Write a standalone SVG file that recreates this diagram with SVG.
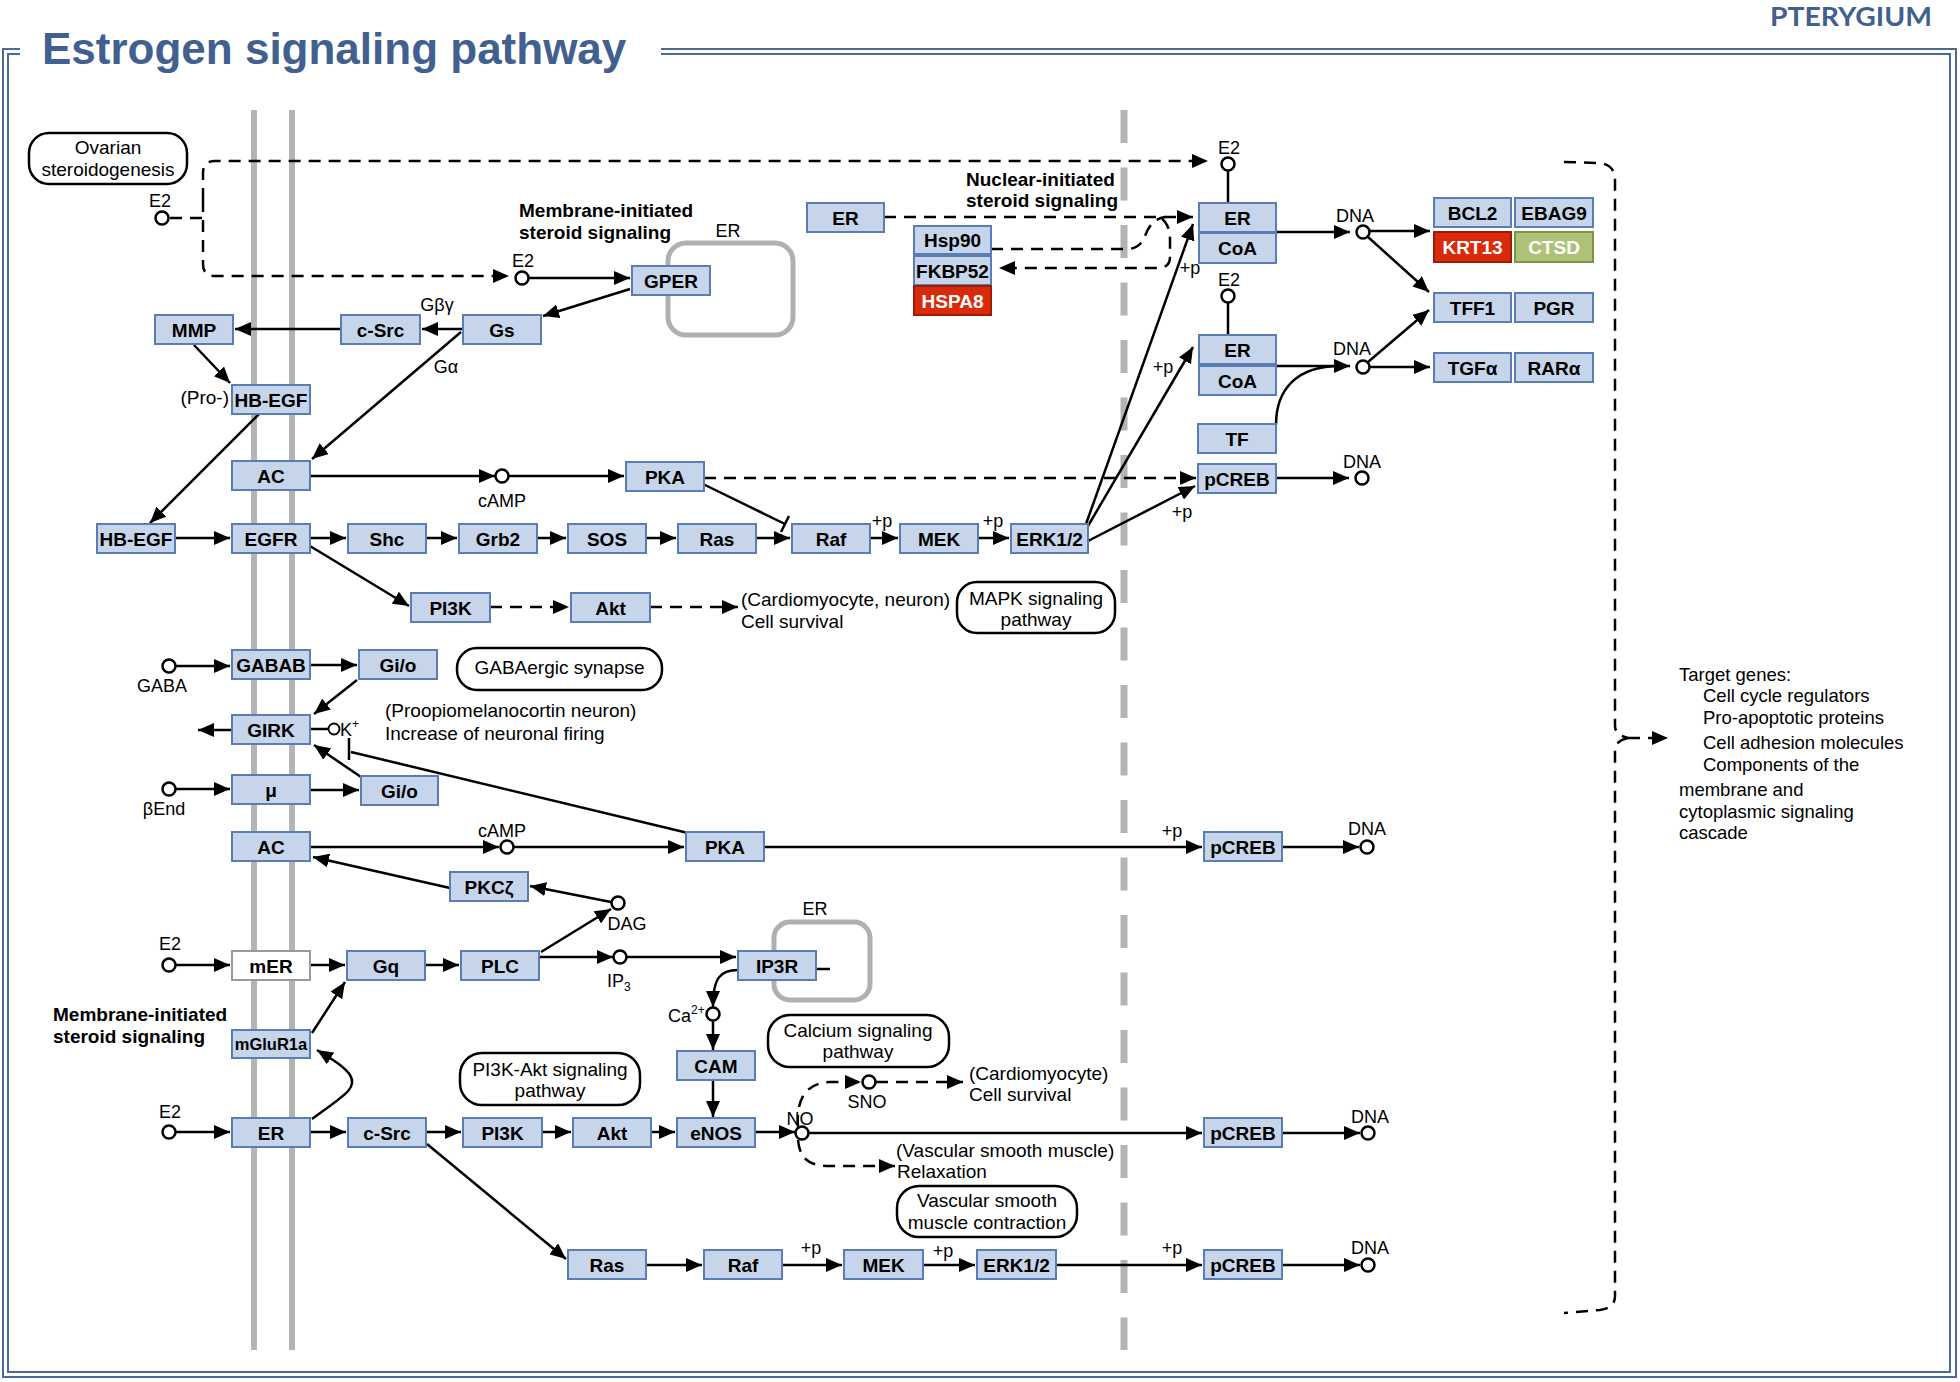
<svg xmlns="http://www.w3.org/2000/svg" width="1960" height="1382" viewBox="0 0 1960 1382">
<style>
.nb rect{fill:#c6d5ea;stroke:#5b7db5;stroke-width:2}
.nb text{font:bold 19px "Liberation Sans",Arial,sans-serif;text-anchor:middle;fill:#000}
.red rect{fill:#d92a0b;stroke:#9c1c05}
.red text{fill:#fff}
.grn rect{fill:#adc276;stroke:#7f9445}
.grn text{fill:#fff}
.mer rect{fill:#fff;stroke:#9a9a9a}
.pw rect{fill:#fff;stroke:#000;stroke-width:2.5}
.pw text{font:19px "Liberation Sans",Arial,sans-serif;text-anchor:middle}
.lbl{font:19px "Liberation Sans",Arial,sans-serif}
.sm{font:18px "Liberation Sans",Arial,sans-serif;text-anchor:middle}
.st{text-anchor:start}
.bold{font:bold 19px "Liberation Sans",Arial,sans-serif}
.cmp circle{fill:#fff;stroke:#000;stroke-width:2.5}
.e{fill:none;stroke:#000;stroke-width:2.5}
.ea{marker-end:url(#a)}
.d{stroke-dasharray:12 8}
.mem{stroke:#b4b4b4;stroke-width:6}
.nuc{stroke:#b4b4b4;stroke-width:7;stroke-dasharray:33 24.5}
.cpt{fill:none;stroke:#b0b0b0;stroke-width:5}
.frm{fill:none;stroke:#4a6a9c;stroke-width:2}
</style>
<defs>
<marker id="a" markerWidth="16" markerHeight="14" refX="16" refY="7" orient="auto" markerUnits="userSpaceOnUse"><path d="M0,0 L16,7 L0,14 z" fill="#000"/></marker>
</defs>
<rect width="1960" height="1382" fill="#fff"/>
<g id="background">
<path class="frm" d="M20,49 H3 V1377 H1956 V49 H661"/>
<path class="frm" d="M20,54 H8 V1372 H1950 V54 H661"/>
<text x="42" y="64" style="font:bold 44px 'Liberation Sans',Arial,sans-serif;fill:#41608f">Estrogen signaling pathway</text>
<text x="1770" y="26" textLength="162" lengthAdjust="spacingAndGlyphs" style="font:bold 27px Lato,'Open Sans',sans-serif;fill:#41608f">PTERYGIUM</text>
<line class="mem" x1="254" y1="110" x2="254" y2="1350"/>
<line class="mem" x1="292" y1="110" x2="292" y2="1350"/>
<line class="nuc" x1="1124" y1="110" x2="1124" y2="1350"/>
<rect class="cpt" x="668" y="243" width="125" height="92" rx="18"/>
<text class="sm" x="728" y="237">ER</text>
<rect class="cpt" x="774" y="922" width="96" height="78" rx="16"/>
<text class="sm" x="815" y="915">ER</text>
<text class="bold" x="519" y="217">Membrane-initiated</text>
<text class="bold" x="519" y="239">steroid signaling</text>
<text class="bold" x="966" y="186">Nuclear-initiated</text>
<text class="bold" x="966" y="207">steroid signaling</text>
<text class="bold" x="53" y="1021">Membrane-initiated</text>
<text class="bold" x="53" y="1043">steroid signaling</text>
<text class="lbl" x="741" y="606">(Cardiomyocyte, neuron)</text>
<text class="lbl" x="741" y="628">Cell survival</text>
<text class="lbl" x="385" y="717">(Proopiomelanocortin neuron)</text>
<text class="lbl" x="385" y="740">Increase of neuronal firing</text>
<text class="lbl" x="969" y="1080">(Cardiomyocyte)</text>
<text class="lbl" x="969" y="1101">Cell survival</text>
<text class="lbl" x="896" y="1157">(Vascular smooth muscle)</text>
<text class="lbl" x="897" y="1178">Relaxation</text>
<g style="font:18.5px 'Liberation Sans',Arial,sans-serif">
<text x="1679" y="681">Target genes:</text>
<text x="1703" y="702">Cell cycle regulators</text>
<text x="1703" y="724">Pro-apoptotic proteins</text>
<text x="1703" y="749">Cell adhesion molecules</text>
<text x="1703" y="771">Components of the</text>
<text x="1679" y="796">membrane and</text>
<text x="1679" y="818">cytoplasmic signaling</text>
<text x="1679" y="839">cascade</text>
</g>
<g class="sm">
<text x="882" y="527">+p</text>
<text x="993" y="527">+p</text>
<text x="1182" y="518">+p</text>
<text x="1190" y="274">+p</text>
<text x="1163" y="373">+p</text>
<text x="1172" y="837">+p</text>
<text x="811" y="1254">+p</text>
<text x="943" y="1257">+p</text>
<text x="1172" y="1254">+p</text>
<text x="437" y="311">Gβγ</text>
<text x="446" y="373">Gα</text>
</g>
<text class="lbl" x="229" y="404" style="text-anchor:end">(Pro-)</text>
</g>
<g id="connectors">
<path class="e d ea" d="M203,200 V173 Q203,161 215,161 H1208"/>
<path class="e d ea" d="M203,200 V264 Q203,276 215,276 H509"/>
<path class="e d" d="M170,218 H203"/>
<path class="e ea" d="M529,278 H630"/>
<path class="e ea" d="M630,289 L543,316"/>
<path class="e ea" d="M463,329 H422"/>
<path class="e ea" d="M341,329 H235"/>
<path class="e ea" d="M194,345 L230,383"/>
<path class="e ea" d="M259,414 L150,523"/>
<path class="e ea" d="M461,332 L312,459"/>
<path class="e ea" d="M310,476 H495"/>
<path class="e ea" d="M509,476 H624"/>
<path class="e" d="M703,484 L785,524 M781,532 L789,516"/>
<path class="e ea" d="M175,538 H230"/>
<path class="e ea" d="M310,538 H346"/>
<path class="e ea" d="M426,538 H457"/>
<path class="e ea" d="M537,538 H566"/>
<path class="e ea" d="M646,538 H676"/>
<path class="e ea" d="M756,538 H790"/>
<path class="e ea" d="M870,538 H898"/>
<path class="e ea" d="M978,538 H1009"/>
<path class="e ea" d="M310,546 L409,606"/>
<path class="e d ea" d="M490,607 H569"/>
<path class="e d ea" d="M650,607 H738"/>
<path class="e d ea" d="M704,478 H1196"/>
<path class="e ea" d="M1088,541 L1195,486"/>
<path class="e ea" d="M1086,524 L1193,224"/>
<path class="e ea" d="M1088,526 L1193,347"/>
<path class="e ea" d="M1276,478 H1349"/>
<path class="e" d="M1228,171 V203 M1228,303 V335"/>
<path class="e ea" d="M1276,232 H1350"/>
<path class="e ea" d="M1276,366 H1350"/>
<path class="e" d="M1276,425 C1276,388 1298,366 1340,366"/>
<path class="e ea" d="M1370,231 H1430"/>
<path class="e ea" d="M1368,237 L1429,292"/>
<path class="e ea" d="M1368,362 L1429,310"/>
<path class="e ea" d="M1370,367 H1430"/>
<path class="e d ea" d="M884,217 H1193"/>
<path class="e d" d="M991,249 H1127 Q1140,249 1145,236 Q1151,219 1165,217"/>
<path class="e d ea" d="M1162,219 Q1170,225 1170,240 V257 Q1170,268 1158,268 H999"/>
<path class="e d" d="M1564,162 L1600,163 Q1615,165 1615,180 V726 Q1615,735 1628,738"/>
<path class="e d" d="M1628,738 Q1615,741 1615,750 V1296 Q1615,1308 1600,1310 L1564,1313"/>
<path class="e d ea" d="M1628,738 H1668"/>
<path class="e ea" d="M176,666 H230"/>
<path class="e ea" d="M310,665 H357"/>
<path class="e ea" d="M357,680 L314,714"/>
<path class="e ea" d="M232,730 H198"/>
<path class="e" d="M310,729 H328"/>
<path class="e" d="M688,833 L351,752 M349,738 V760"/>
<path class="e ea" d="M361,777 L314,745"/>
<path class="e ea" d="M176,789 H230"/>
<path class="e ea" d="M310,790 H359"/>
<path class="e ea" d="M310,847 H499"/>
<path class="e ea" d="M514,847 H684"/>
<path class="e ea" d="M764,847 H1202"/>
<path class="e ea" d="M1282,847 H1359"/>
<path class="e ea" d="M450,888 L313,857"/>
<path class="e ea" d="M611,902 L530,886"/>
<path class="e ea" d="M541,952 L611,909"/>
<path class="e ea" d="M176,965 H230"/>
<path class="e ea" d="M310,965 H345"/>
<path class="e ea" d="M424,965 H459"/>
<path class="e ea" d="M539,957 H613"/>
<path class="e ea" d="M627,957 H736"/>
<path class="e" d="M816,969 H830"/>
<path class="e ea" d="M738,970 C720,970 713,978 713,1007"/>
<path class="e ea" d="M713,1021 V1050"/>
<path class="e ea" d="M713,1080 V1117"/>
<path class="e ea" d="M312,1033 L345,982"/>
<path class="e ea" d="M312,1119 C345,1095 358,1088 350,1075 C344,1066 330,1058 317,1050"/>
<path class="e ea" d="M176,1132 H230"/>
<path class="e ea" d="M310,1132 H346"/>
<path class="e ea" d="M426,1132 H461"/>
<path class="e ea" d="M542,1132 H571"/>
<path class="e ea" d="M651,1132 H675"/>
<path class="e ea" d="M755,1132 H795"/>
<path class="e ea" d="M809,1133 H1202"/>
<path class="e ea" d="M1282,1133 H1360"/>
<path class="e d ea" d="M798,1127 C796,1100 805,1083 830,1082 H861"/>
<path class="e d ea" d="M876,1082 H963"/>
<path class="e d ea" d="M798,1140 C800,1160 810,1166 830,1166 H895"/>
<path class="e ea" d="M427,1144 L566,1259"/>
<path class="e ea" d="M646,1265 H702"/>
<path class="e ea" d="M782,1265 H842"/>
<path class="e ea" d="M923,1265 H975"/>
<path class="e ea" d="M1056,1265 H1202"/>
<path class="e ea" d="M1283,1265 H1360"/>
</g>
<g id="nodes">
<g id="n-ovarian" class="pw"><rect x="29" y="133" width="158" height="51" rx="20"/><text x="108" y="154">Ovarian</text><text x="108" y="176">steroidogenesis</text></g>
<g id="n-mapk" class="pw"><rect x="957" y="582" width="158" height="51" rx="20"/><text x="1036" y="605">MAPK signaling</text><text x="1036" y="626">pathway</text></g>
<g id="n-gaba-syn" class="pw"><rect x="457" y="648" width="205" height="42" rx="20"/><text x="559.5" y="674">GABAergic synapse</text></g>
<g id="n-pi3kakt" class="pw"><rect x="460" y="1053" width="180" height="52" rx="22"/><text x="550" y="1076">PI3K-Akt signaling</text><text x="550" y="1097">pathway</text></g>
<g id="n-calcium" class="pw"><rect x="768" y="1015" width="181" height="52" rx="22"/><text x="858" y="1037">Calcium signaling</text><text x="858" y="1058">pathway</text></g>
<g id="n-vsmc" class="pw"><rect x="897" y="1186" width="180" height="51" rx="22"/><text x="987" y="1207">Vascular smooth</text><text x="987" y="1229">muscle contraction</text></g>

<g id="n-GPER" class="nb"><rect x="632" y="266" width="78" height="29"/><text x="671" y="287.5">GPER</text></g>
<g id="n-Gs" class="nb"><rect x="463" y="315" width="78" height="29"/><text x="502" y="336.5">Gs</text></g>
<g id="n-cSrc1" class="nb"><rect x="341" y="315" width="79" height="29"/><text x="380.5" y="336.5">c-Src</text></g>
<g id="n-MMP" class="nb"><rect x="155" y="315" width="78" height="29"/><text x="194" y="336.5">MMP</text></g>
<g id="n-HBEGFpro" class="nb"><rect x="232" y="385" width="78" height="29"/><text x="271" y="406.5">HB-EGF</text></g>
<g id="n-AC1" class="nb"><rect x="232" y="461" width="78" height="29"/><text x="271" y="482.5">AC</text></g>
<g id="n-PKA1" class="nb"><rect x="626" y="462" width="78" height="29"/><text x="665" y="483.5">PKA</text></g>
<g id="n-HBEGF" class="nb"><rect x="97" y="524" width="78" height="29"/><text x="136" y="545.5">HB-EGF</text></g>
<g id="n-EGFR" class="nb"><rect x="232" y="524" width="78" height="29"/><text x="271" y="545.5">EGFR</text></g>
<g id="n-Shc" class="nb"><rect x="348" y="524" width="78" height="29"/><text x="387" y="545.5">Shc</text></g>
<g id="n-Grb2" class="nb"><rect x="459" y="524" width="78" height="29"/><text x="498" y="545.5">Grb2</text></g>
<g id="n-SOS" class="nb"><rect x="568" y="524" width="78" height="29"/><text x="607" y="545.5">SOS</text></g>
<g id="n-Ras1" class="nb"><rect x="678" y="524" width="78" height="29"/><text x="717" y="545.5">Ras</text></g>
<g id="n-Raf1" class="nb"><rect x="792" y="524" width="78" height="29"/><text x="831" y="545.5">Raf</text></g>
<g id="n-MEK1" class="nb"><rect x="900" y="524" width="78" height="29"/><text x="939" y="545.5">MEK</text></g>
<g id="n-ERK1" class="nb"><rect x="1011" y="524" width="77" height="29"/><text x="1049.5" y="545.5">ERK1/2</text></g>
<g id="n-PI3K1" class="nb"><rect x="411" y="593" width="79" height="29"/><text x="450.5" y="614.5">PI3K</text></g>
<g id="n-Akt1" class="nb"><rect x="571" y="593" width="79" height="29"/><text x="610.5" y="614.5">Akt</text></g>
<g id="n-GABAB" class="nb"><rect x="232" y="650" width="78" height="29"/><text x="271" y="671.5">GABAB</text></g>
<g id="n-Gio1" class="nb"><rect x="359" y="650" width="78" height="29"/><text x="398" y="671.5">Gi/o</text></g>
<g id="n-GIRK" class="nb"><rect x="232" y="715" width="78" height="29"/><text x="271" y="736.5">GIRK</text></g>
<g id="n-mu" class="nb"><rect x="232" y="775" width="78" height="29"/><text x="271" y="796.5">μ</text></g>
<g id="n-Gio2" class="nb"><rect x="361" y="776" width="77" height="29"/><text x="399.5" y="797.5">Gi/o</text></g>
<g id="n-AC2" class="nb"><rect x="232" y="832" width="78" height="29"/><text x="271" y="853.5">AC</text></g>
<g id="n-PKA2" class="nb"><rect x="686" y="832" width="78" height="29"/><text x="725" y="853.5">PKA</text></g>
<g id="n-pCREB2" class="nb"><rect x="1204" y="832" width="78" height="29"/><text x="1243" y="853.5">pCREB</text></g>
<g id="n-PKCz" class="nb"><rect x="450" y="872" width="78" height="29"/><text x="489" y="893.5">PKCζ</text></g>
<g id="n-mER" class="nb mer"><rect x="232" y="951" width="78" height="29"/><text x="271" y="972.5">mER</text></g>
<g id="n-Gq" class="nb"><rect x="347" y="951" width="78" height="29"/><text x="386" y="972.5">Gq</text></g>
<g id="n-PLC" class="nb"><rect x="461" y="951" width="78" height="29"/><text x="500" y="972.5">PLC</text></g>
<g id="n-IP3R" class="nb"><rect x="738" y="951" width="78" height="29"/><text x="777" y="972.5">IP3R</text></g>
<g id="n-mGluR1a" class="nb"><rect x="232" y="1030" width="78" height="28"/><text x="271" y="1050" style="font-size:16.5px">mGluR1a</text></g>
<g id="n-CAM" class="nb"><rect x="677" y="1051" width="78" height="29"/><text x="716" y="1072.5">CAM</text></g>
<g id="n-ERb" class="nb"><rect x="232" y="1118" width="78" height="29"/><text x="271" y="1139.5">ER</text></g>
<g id="n-cSrc2" class="nb"><rect x="348" y="1118" width="78" height="29"/><text x="387" y="1139.5">c-Src</text></g>
<g id="n-PI3K2" class="nb"><rect x="463" y="1118" width="79" height="29"/><text x="502.5" y="1139.5">PI3K</text></g>
<g id="n-Akt2" class="nb"><rect x="573" y="1118" width="78" height="29"/><text x="612" y="1139.5">Akt</text></g>
<g id="n-eNOS" class="nb"><rect x="677" y="1118" width="78" height="29"/><text x="716" y="1139.5">eNOS</text></g>
<g id="n-pCREB4" class="nb"><rect x="1204" y="1118" width="78" height="29"/><text x="1243" y="1139.5">pCREB</text></g>
<g id="n-Ras2" class="nb"><rect x="568" y="1250" width="78" height="29"/><text x="607" y="1271.5">Ras</text></g>
<g id="n-Raf2" class="nb"><rect x="704" y="1250" width="78" height="29"/><text x="743" y="1271.5">Raf</text></g>
<g id="n-MEK2" class="nb"><rect x="844" y="1250" width="79" height="29"/><text x="883.5" y="1271.5">MEK</text></g>
<g id="n-ERK2" class="nb"><rect x="977" y="1250" width="79" height="29"/><text x="1016.5" y="1271.5">ERK1/2</text></g>
<g id="n-pCREB3" class="nb"><rect x="1204" y="1250" width="78" height="29"/><text x="1243" y="1271.5">pCREB</text></g>
<g id="n-ERn" class="nb"><rect x="807" y="203" width="77" height="29"/><text x="845.5" y="224.5">ER</text></g>
<g id="n-Hsp90" class="nb"><rect x="914" y="226" width="77" height="28"/><text x="952.5" y="246.5">Hsp90</text></g>
<g id="n-FKBP52" class="nb"><rect x="914" y="256" width="77" height="29"/><text x="952.5" y="277.5">FKBP52</text></g>
<g id="n-HSPA8" class="nb red"><rect x="914" y="286" width="77" height="29"/><text x="952.5" y="307.5">HSPA8</text></g>
<g id="n-ER1" class="nb"><rect x="1199" y="203" width="77" height="29"/><text x="1237.5" y="224.5">ER</text></g>
<g id="n-CoA1" class="nb"><rect x="1199" y="233" width="77" height="30"/><text x="1237.5" y="255">CoA</text></g>
<g id="n-ER2" class="nb"><rect x="1199" y="335" width="77" height="29"/><text x="1237.5" y="356.5">ER</text></g>
<g id="n-CoA2" class="nb"><rect x="1199" y="366" width="77" height="29"/><text x="1237.5" y="387.5">CoA</text></g>
<g id="n-TF" class="nb"><rect x="1198" y="424" width="78" height="29"/><text x="1237" y="445.5">TF</text></g>
<g id="n-pCREB1" class="nb"><rect x="1198" y="464" width="78" height="29"/><text x="1237" y="485.5">pCREB</text></g>
<g id="n-BCL2" class="nb"><rect x="1434" y="198" width="77" height="29"/><text x="1472.5" y="219.5">BCL2</text></g>
<g id="n-EBAG9" class="nb"><rect x="1515" y="198" width="78" height="29"/><text x="1554" y="219.5">EBAG9</text></g>
<g id="n-KRT13" class="nb red"><rect x="1434" y="232" width="77" height="30"/><text x="1472.5" y="254">KRT13</text></g>
<g id="n-CTSD" class="nb grn"><rect x="1515" y="232" width="78" height="30"/><text x="1554" y="254">CTSD</text></g>
<g id="n-TFF1" class="nb"><rect x="1434" y="293" width="77" height="29"/><text x="1472.5" y="314.5">TFF1</text></g>
<g id="n-PGR" class="nb"><rect x="1515" y="293" width="78" height="29"/><text x="1554" y="314.5">PGR</text></g>
<g id="n-TGFa" class="nb"><rect x="1434" y="353" width="77" height="29"/><text x="1472.5" y="374.5">TGFα</text></g>
<g id="n-RARa" class="nb"><rect x="1515" y="353" width="78" height="29"/><text x="1554" y="374.5">RARα</text></g>

<g id="c-E2a" class="cmp"><circle cx="162" cy="218" r="6.5"/><text class="sm" x="160" y="207">E2</text></g>
<g id="c-E2b" class="cmp"><circle cx="522" cy="278" r="6.5"/><text class="sm" x="523" y="267">E2</text></g>
<g id="c-E2n1" class="cmp"><circle cx="1228" cy="164" r="6.5"/><text class="sm" x="1229" y="154">E2</text></g>
<g id="c-E2n2" class="cmp"><circle cx="1228" cy="296" r="6.5"/><text class="sm" x="1229" y="286">E2</text></g>
<g id="c-DNA1" class="cmp"><circle cx="1363" cy="232" r="6.5"/><text class="sm" x="1355" y="222">DNA</text></g>
<g id="c-DNA2" class="cmp"><circle cx="1363" cy="367" r="6.5"/><text class="sm" x="1352" y="355">DNA</text></g>
<g id="c-DNA3" class="cmp"><circle cx="1362" cy="478" r="6.5"/><text class="sm" x="1362" y="468">DNA</text></g>
<g id="c-cAMP1" class="cmp"><circle cx="502" cy="476" r="6.5"/><text class="sm" x="502" y="507">cAMP</text></g>
<g id="c-GABA" class="cmp"><circle cx="169" cy="666" r="6.5"/><text class="sm" x="162" y="692">GABA</text></g>
<g id="c-K" class="cmp"><circle cx="334" cy="729" r="5.5" style="stroke-width:1.8"/><text class="sm st" x="340" y="736">K<tspan font-size="12" dy="-8">+</tspan></text></g>
<g id="c-bEnd" class="cmp"><circle cx="169" cy="789" r="6.5"/><text class="sm" x="164" y="815">βEnd</text></g>
<g id="c-cAMP2" class="cmp"><circle cx="507" cy="847" r="6.5"/><text class="sm" x="502" y="837">cAMP</text></g>
<g id="c-DNA4" class="cmp"><circle cx="1367" cy="847" r="6.5"/><text class="sm" x="1367" y="835">DNA</text></g>
<g id="c-DAG" class="cmp"><circle cx="618" cy="903" r="6.5"/><text class="sm" x="627" y="930">DAG</text></g>
<g id="c-E2m" class="cmp"><circle cx="169" cy="965" r="6.5"/><text class="sm" x="170" y="950">E2</text></g>
<g id="c-IP3" class="cmp"><circle cx="620" cy="957" r="6.5"/><text class="sm st" x="607" y="987">IP<tspan font-size="12" dy="4">3</tspan></text></g>
<g id="c-Ca" class="cmp"><circle cx="713" cy="1014" r="6.5"/><text class="sm st" x="668" y="1022">Ca<tspan font-size="12" dy="-8">2+</tspan></text></g>
<g id="c-SNO" class="cmp"><circle cx="869" cy="1082" r="6.5"/><text class="sm" x="867" y="1108">SNO</text></g>
<g id="c-NO" class="cmp"><circle cx="802" cy="1133" r="6.5"/><text class="sm" x="800" y="1125">NO</text></g>
<g id="c-DNA5" class="cmp"><circle cx="1368" cy="1133" r="6.5"/><text class="sm" x="1370" y="1123">DNA</text></g>
<g id="c-E2e" class="cmp"><circle cx="169" cy="1132" r="6.5"/><text class="sm" x="170" y="1118">E2</text></g>
<g id="c-DNA6" class="cmp"><circle cx="1368" cy="1265" r="6.5"/><text class="sm" x="1370" y="1254">DNA</text></g>
</g>
</svg>
